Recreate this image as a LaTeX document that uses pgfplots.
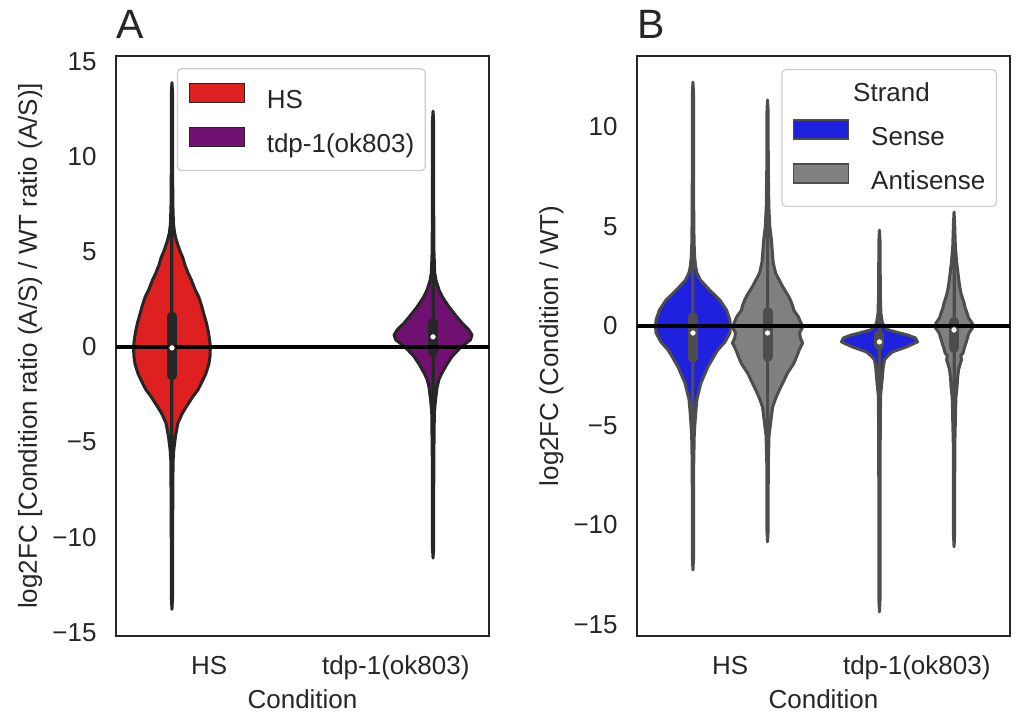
\documentclass[border=0pt]{standalone}
\usepackage{fontspec}
\setmainfont{Liberation Sans}
\usepackage{pgfplots}
\usepgfplotslibrary{fillbetween}
\usepackage{pgfplotstable}
\pgfplotsset{compat=1.18}

\definecolor{vred}{HTML}{DF2020}
\definecolor{vpurple}{HTML}{701070}
\definecolor{vblue}{HTML}{2020DF}
\definecolor{vgray}{HTML}{808080}
\definecolor{dk}{HTML}{262626}
\definecolor{md}{HTML}{4D4D4D}
\definecolor{lg}{HTML}{CCCCCC}

% Panel A: HS (red)
\pgfplotstableread{
y w
-13.8 0
-13.2 0.003
-9.0 0.004
-6.0 0.006
-5.4 0.010
-4.7 0.019
-4.0 0.032
-3.5 0.055
-3.1 0.080
-2.6 0.113
-2.26 0.139
-1.8 0.163
-1.4 0.182
-0.9 0.198
-0.5 0.204
0.0 0.206
0.37 0.202
0.8 0.195
1.26 0.185
1.7 0.172
2.1 0.161
2.6 0.145
3.0 0.125
3.5 0.105
3.9 0.086
4.3 0.070
4.7 0.058
5.0 0.045
5.3 0.034
5.6 0.024
6.0 0.014
6.5 0.008
7.5 0.005
10.0 0.003
13.4 0.003
13.9 0
}\tabAhs

% Panel A: tdp-1 (purple)
\pgfplotstableread{
y w
-11.1 0
-10.6 0.003
-6.0 0.004
-3.5 0.007
-2.8 0.013
-2.1 0.022
-1.7 0.032
-1.37 0.048
-0.9 0.075
-0.5 0.102
0.0 0.150
0.37 0.200
0.63 0.209
0.9 0.192
1.26 0.155
1.7 0.118
2.1 0.086
2.6 0.052
3.0 0.032
3.5 0.016
3.9 0.009
5.0 0.005
8.0 0.003
11.9 0.003
12.4 0
}\tabAtdp

% Panel B: HS sense (blue)
\pgfplotstableread{
y w
-12.26 0
-11.7 0.003
-7.0 0.004
-5.5 0.007
-4.6 0.013
-3.7 0.021
-2.86 0.043
-2.06 0.080
-1.6 0.108
-1.2 0.134
-0.8 0.172
-0.35 0.198
0.0 0.201
0.3 0.198
0.8 0.180
1.3 0.145
1.8 0.090
2.31 0.040
2.66 0.022
3.0 0.014
3.5 0.009
4.2 0.006
6.0 0.004
11.7 0.003
12.26 0
}\tabBhsS

% Panel B: HS antisense (gray)
\pgfplotstableread{
y w
-10.85 0
-10.3 0.003
-7.0 0.004
-5.5 0.008
-4.9 0.016
-4.07 0.027
-3.6 0.045
-3.2 0.064
-2.8 0.085
-2.36 0.107
-1.9 0.140
-1.56 0.155
-1.2 0.170
-0.85 0.188
-0.6 0.176
-0.35 0.172
-0.05 0.188
0.45 0.166
0.8 0.140
1.0 0.135
1.16 0.129
1.4 0.118
1.66 0.102
2.0 0.080
2.66 0.043
3.2 0.030
3.8 0.025
4.3 0.021
5.0 0.012
6.0 0.007
8.0 0.004
10.8 0.003
11.36 0
}\tabBhsA

% Panel B: tdp-1 sense (blue)
\pgfplotstableread{
y w
-14.37 0
-13.8 0.003
-6.0 0.004
-3.5 0.006
-2.56 0.016
-2.1 0.020
-1.7 0.027
-1.5 0.045
-1.3 0.070
-1.05 0.145
-0.8 0.204
-0.6 0.193
-0.45 0.150
-0.35 0.107
-0.2 0.048
0.0 0.025
0.15 0.016
0.6 0.008
1.5 0.005
4.3 0.003
4.82 0
}\tabBtdpS

% Panel B: tdp-1 antisense (gray)
\pgfplotstableread{
y w
-11.1 0
-10.5 0.003
-6.0 0.004
-3.6 0.010
-3.07 0.016
-2.6 0.019
-2.2 0.024
-1.9 0.033
-1.7 0.040
-1.5 0.036
-1.36 0.048
-1.1 0.055
-0.85 0.064
-0.6 0.072
-0.35 0.080
-0.05 0.102
0.15 0.097
0.4 0.078
0.65 0.070
0.9 0.060
1.16 0.054
1.4 0.045
1.66 0.037
2.0 0.030
2.66 0.021
3.2 0.014
4.0 0.007
5.2 0.003
5.73 0
}\tabBtdpA

\newcommand{\violin}[5]{%
  \addplot[draw=none, name path=#5r, forget plot] table[x expr=#2+\thisrow{w}, y=y]{#1};
  \addplot[draw=none, name path=#5l, forget plot] table[x expr=#2-\thisrow{w}, y=y]{#1};
  \addplot[fill=#3, draw=#4, line width=1.5pt, line join=round, forget plot] fill between[of=#5r and #5l];
}
\newcommand{\innerbox}[7]{% center, whisker lo, q25, median, q75, whisker hi, color
  \addplot[#7, line width=1.5pt, forget plot] coordinates {(#1,#2) (#1,#6)};
  \addplot[#7, line width=5pt, line cap=round, forget plot] coordinates {(#1,#3) (#1,#5)};
}
\newcommand{\vmed}[3]{%
  \addplot[only marks, mark=*, mark size=1.6pt, mark options={fill=white, draw=#3, line width=0.4pt}, forget plot] coordinates {(#1,#2)};
}

\pgfplotsset{
  vbase/.style={
    scale only axis, width=186.5pt, height=290pt,
    xmin=-0.5, xmax=1.5, xtick={0,1}, xticklabels={HS,tdp-1(ok803)},
    axis line style={dk, line width=0.85pt},
    major tick length=0pt,
    tick label style={font=\fontsize{13}{15.6}\selectfont, text=dk},
    yticklabel style={inner sep=0pt, anchor=east, xshift=-9.5pt},
    xticklabel style={inner sep=0pt, anchor=north, text height=9.5pt, text depth=3pt, yshift=-9.3pt},
    label style={font=\fontsize{13}{15.6}\selectfont, text=dk},
    xlabel={Condition},
    xlabel style={at={([yshift=-36.3pt]axis description cs:0.5,0)}, anchor=base, inner sep=0pt},
    ylabel style={at={([xshift=-39.5pt]axis description cs:0,0.5)}, anchor=base, inner sep=0pt},
    every axis title shift=0pt,
    title style={at={([yshift=8.5pt]axis description cs:0,1)}, anchor=base west, yshift=0pt, inner sep=0pt, font=\fontsize{20.5}{24}\selectfont, text=dk},
    legend cell align=left,
    legend image code/.code={\draw[##1, line width=0.6pt, sharp corners] (0pt,-0.5pt) rectangle (27.5pt,9pt);},
  }
}

\begin{document}
\begin{tikzpicture}
\path (-58pt,-38.5pt) rectangle (450.5pt,318pt);

% ---------------- Panel A ----------------
\begin{axis}[vbase,
  at={(0pt,0pt)}, anchor=south west,
  ymin=-15.2, ymax=15.3,
  ytick={-15,-10,-5,0,5,10,15},
  yticklabels={−15,−10,−5,0,5,10,15},
  ylabel={log2FC [Condition ratio (A/S) / WT ratio (A/S)]},
  title={A},
  legend style={at={(axis description cs:0.1635,0.979)}, anchor=north west,
    draw=lg, line width=0.6pt, rounded corners=2pt, fill=white,
    inner xsep=5.5pt, inner ysep=6.9pt, row sep=7pt,
    font=\fontsize{13}{15.6}\selectfont, text=dk,
    nodes={inner sep=0pt, text height=9.5pt, text depth=2pt},
    /tikz/every odd column/.append style={column sep=11pt}},
]
\addlegendimage{fill=vred, draw=dk}
\addlegendentry{HS}
\addlegendimage{fill=vpurple, draw=dk}
\addlegendentry{tdp-1(ok803)}

\violin{\tabAhs}{-0.2}{vred}{dk}{ahs}
\violin{\tabAtdp}{1.2}{vpurple}{dk}{atdp}
\innerbox{-0.2}{-6.5}{-1.5}{-0.05}{1.6}{6.5}{dk}
\innerbox{1.2}{-2.6}{-0.26}{0.53}{1.26}{3.6}{dk}
\addplot[black, line width=1.65pt, forget plot] coordinates {(-0.5,0) (1.5,0)};
\vmed{-0.2}{-0.05}{dk}
\vmed{1.2}{0.53}{dk}
\end{axis}

% ---------------- Panel B ----------------
\begin{axis}[vbase,
  at={(260.5pt,0pt)}, anchor=south west,
  ymin=-15.58, ymax=13.57,
  ytick={-15,-10,-5,0,5,10},
  yticklabels={−15,−10,−5,0,5,10},
  ylabel={log2FC (Condition / WT)},
  title={B},
  legend style={at={(axis description cs:0.9651,0.9776)}, anchor=north east,
    draw=lg, line width=0.6pt, rounded corners=2pt, fill=white,
    inner xsep=5.5pt, inner ysep=6.4pt, row sep=7pt,
    font=\fontsize{13}{15.6}\selectfont, text=dk,
    nodes={inner sep=0pt, text height=9.5pt, text depth=2pt},
    /tikz/every odd column/.append style={column sep=11pt}},
]
\addlegendimage{empty legend}
\addlegendentry{\hspace*{-9pt}Strand}
\addlegendimage{fill=vblue, draw=md}
\addlegendentry{Sense}
\addlegendimage{fill=vgray, draw=md}
\addlegendentry{Antisense}

\violin{\tabBhsS}{-0.2}{vblue}{md}{bhss}
\violin{\tabBhsA}{0.2}{vgray}{md}{bhsa}
\violin{\tabBtdpS}{0.8}{vblue}{md}{btdps}
\violin{\tabBtdpA}{1.2}{vgray}{md}{btdpa}
\innerbox{-0.2}{-4.5}{-1.6}{-0.35}{0.45}{3.5}{md}
\innerbox{0.2}{-5.0}{-1.55}{-0.35}{0.7}{4.0}{md}
\innerbox{0.8}{-1.8}{-0.95}{-0.8}{-0.45}{0.3}{md}
\innerbox{1.2}{-3.5}{-1.1}{-0.2}{0.2}{2.6}{md}
\addplot[black, line width=1.65pt, forget plot] coordinates {(-0.5,0) (1.5,0)};
\vmed{-0.2}{-0.35}{md}
\vmed{0.2}{-0.35}{md}
\vmed{0.8}{-0.8}{md}
\vmed{1.2}{-0.2}{md}
\end{axis}
\end{tikzpicture}
\end{document}
